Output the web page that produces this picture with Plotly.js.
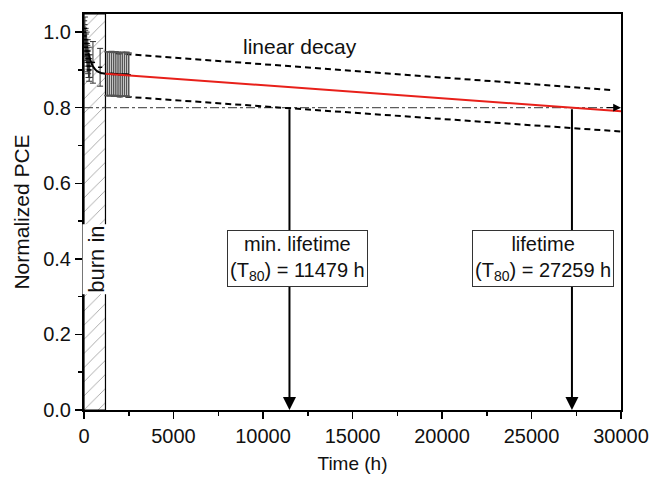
<!DOCTYPE html>
<html>
<head>
<meta charset="utf-8">
<script src="https://cdn.plot.ly/plotly-3.0.1.min.js"></script>
<style>html,body{margin:0;padding:0;background:#fff;}#chart{width:651px;height:479px;}</style>
</head>
<body>
<div id="chart"></div>
<script>
// ---- data ----
var burnInEnd = 1200;
var burnX = [10, 30, 50, 70, 90, 110, 130, 150, 170, 190, 210, 230, 250, 270, 290, 320, 500, 900];
var burnY = [1.00, 0.99, 1.01, 0.97, 0.98, 0.96, 0.95, 0.97, 0.94, 0.93, 0.95, 0.92, 0.91, 0.93, 0.90, 0.91, 0.92, 0.907];
var burnErr = [0.03, 0.03, 0.03, 0.035, 0.03, 0.035, 0.03, 0.03, 0.03, 0.035, 0.03, 0.03, 0.03, 0.03, 0.03, 0.03, 0.055, 0.05];

var postX = [1300, 1420, 1540, 1660, 1780, 1900, 2020, 2140, 2260, 2380, 2500];
var postY = [0.890, 0.889, 0.891, 0.888, 0.890, 0.889, 0.887, 0.889, 0.888, 0.889, 0.887];
var postErr = [0.058, 0.058, 0.058, 0.058, 0.058, 0.058, 0.058, 0.058, 0.058, 0.058, 0.058];

var fitX = [250, 350, 450, 550, 650, 750, 850, 950, 1050, 1200];
var fitY = [0.945, 0.927, 0.914, 0.906, 0.900, 0.896, 0.894, 0.892, 0.891, 0.890];

var linX = [1200, 30000];
var linY = [0.890, 0.7906];
var upperX = [1760, 29400];
var upperY = [0.944, 0.847];
var lowerX = [1760, 30000];
var lowerY = [0.831, 0.737];

var threshold = 0.8;
var t80Min = 11479;
var t80 = 27259;
var xMax = 30000;
var yMax = 1.048;

var xTicks = [0, 5000, 10000, 15000, 20000, 25000, 30000];
var yTicks = [0.0, 0.2, 0.4, 0.6, 0.8, 1.0];

var FONT = "Liberation Sans, Arial, sans-serif";

var traces = [
  {
    x: [0, burnInEnd, burnInEnd, 0, 0],
    y: [0, 0, yMax, yMax, 0],
    mode: "lines", fill: "toself",
    line: {color: "#000", width: 1.2},
    fillcolor: "rgba(255,255,255,0)",
    fillpattern: {shape: "/", fgcolor: "#888", bgcolor: "#fff", size: 10, solidity: 0.07},
    hoverinfo: "skip", showlegend: false
  },
  {
    x: [0, xMax - 900], y: [threshold, threshold], mode: "lines",
    line: {color: "#333", width: 1, dash: "dashdot"}, showlegend: false
  },
  {
    x: upperX, y: upperY, mode: "lines",
    line: {color: "#000", width: 2, dash: "6px,4px"}, showlegend: false
  },
  {
    x: lowerX, y: lowerY, mode: "lines",
    line: {color: "#000", width: 2, dash: "6px,4px"}, showlegend: false
  },
  {
    x: burnX, y: burnY, mode: "markers",
    marker: {color: "#000", size: 3, symbol: "line-ew-open", line: {width: 1.5, color: "#000"}},
    error_y: {type: "data", array: burnErr, color: "#333", thickness: 1, width: 3},
    showlegend: false
  },
  {
    x: postX, y: postY, mode: "markers",
    marker: {color: "#000", size: 3, symbol: "line-ew-open", line: {width: 1.5, color: "#000"}},
    error_y: {type: "data", array: postErr, color: "#555", thickness: 1.5, width: 3},
    showlegend: false
  },
  {
    x: fitX, y: fitY, mode: "lines", line: {color: "#000", width: 2, shape: "spline"}, showlegend: false
  },
  {
    x: linX, y: linY, mode: "lines", line: {color: "#e8201a", width: 2}, showlegend: false
  }
];

var annFont = {family: FONT, size: 20, color: "#111"};
var layout = {
  width: 651, height: 479,
  margin: {l: 84, r: 30, t: 14, b: 69},
  paper_bgcolor: "#fff", plot_bgcolor: "#fff",
  font: {family: FONT, color: "#111"},
  showlegend: false,
  xaxis: {
    range: [0, xMax], tickvals: xTicks, ticktext: xTicks.map(String),
    ticks: "outside", ticklen: 7, tickwidth: 1.5, tickcolor: "#000",
    minor: {dtick: 2500, tick0: 0, ticks: "outside", ticklen: 4, tickwidth: 1.5, tickcolor: "#000"},
    showline: true, linecolor: "#000", linewidth: 2, mirror: true,
    showgrid: false, zeroline: false,
    tickfont: {family: FONT, size: 20, color: "#111"},
    title: {text: "Time (h)", font: {family: FONT, size: 19, color: "#111"}, standoff: 11}
  },
  yaxis: {
    range: [0, yMax], tickvals: yTicks, ticktext: yTicks.map(function(v){return v.toFixed(1);}),
    ticks: "outside", ticklen: 7, tickwidth: 1.5, tickcolor: "#000",
    minor: {dtick: 0.1, tick0: 0, ticks: "outside", ticklen: 4, tickwidth: 1.5, tickcolor: "#000"},
    showline: true, linecolor: "#000", linewidth: 2, mirror: true,
    showgrid: false, zeroline: false,
    tickfont: {family: FONT, size: 20, color: "#111"},
    title: {text: "Normalized PCE", font: {family: FONT, size: 21, color: "#111"}, standoff: 8}
  },
  annotations: [
    {x: t80Min, y: 0, ax: t80Min, ay: threshold, xref: "x", yref: "y", axref: "x", ayref: "y",
     text: "", showarrow: true, arrowhead: 2, arrowsize: 1.3, arrowwidth: 2, arrowcolor: "#000", standoff: 0},
    {x: t80, y: 0, ax: t80, ay: threshold, xref: "x", yref: "y", axref: "x", ayref: "y",
     text: "", showarrow: true, arrowhead: 2, arrowsize: 1.3, arrowwidth: 2, arrowcolor: "#000", standoff: 0},
    {x: xMax, y: threshold, ax: xMax - 900, ay: threshold, xref: "x", yref: "y", axref: "x", ayref: "y",
     text: "", showarrow: true, arrowhead: 2, arrowsize: 1.3, arrowwidth: 1.2, arrowcolor: "#000", standoff: 0},
    {x: 11900, y: 0.40, xref: "x", yref: "y", showarrow: false,
     text: "min. lifetime<br>(T<sub>80</sub>) = 11479 h", font: annFont,
     bgcolor: "#fff", bordercolor: "#333", borderwidth: 1, borderpad: 2},
    {x: 25640, y: 0.40, xref: "x", yref: "y", showarrow: false,
     text: "lifetime<br>(T<sub>80</sub>) = 27259 h", font: annFont,
     bgcolor: "#fff", bordercolor: "#333", borderwidth: 1, borderpad: 2},
    {x: 12070, y: 0.962, xref: "x", yref: "y", showarrow: false,
     text: "linear decay", font: {family: FONT, size: 21, color: "#111"}},
    {x: 720, y: 0.40, xref: "x", yref: "y", showarrow: false, textangle: -90,
     text: "burn in", font: {family: FONT, size: 22, color: "#111"}, bgcolor: "#fff", borderpad: 1}
  ]
};

Plotly.newPlot("chart", traces, layout, {displayModeBar: false, staticPlot: true});
</script>
</body>
</html>
